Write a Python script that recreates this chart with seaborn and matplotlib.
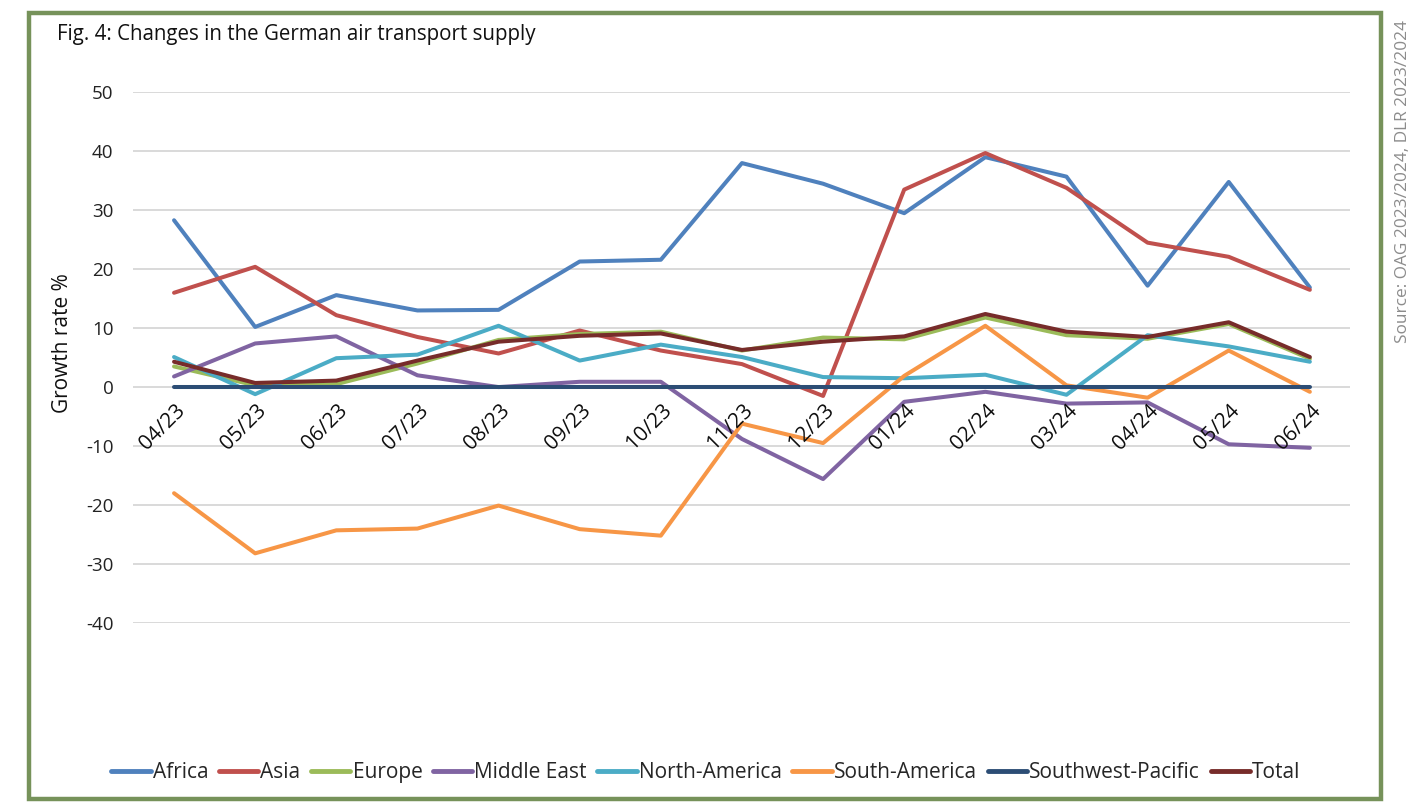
import matplotlib
matplotlib.use("Agg")
import matplotlib.pyplot as plt
import matplotlib.patheffects as pe
import seaborn as sns
import pandas as pd
import numpy as np
from matplotlib.patches import Rectangle
from matplotlib.lines import Line2D

months = ["04/23", "05/23", "06/23", "07/23", "08/23", "09/23", "10/23", "11/23",
          "12/23", "01/24", "02/24", "03/24", "04/24", "05/24", "06/24"]

africa = [28.3, 10.2, 15.6, 13.0, 13.1, 21.3, 21.6, 38.0, 34.5, 29.5, 39.0, 35.7, 17.2, 34.8, 16.9]
asia = [16.0, 20.4, 12.2, 8.5, 5.7, 9.6, 6.2, 3.9, -1.5, 33.5, 39.7, 33.8, 24.5, 22.1, 16.5]
europe = [3.5, 0.3, 0.5, 4.0, 8.0, 9.0, 9.4, 6.2, 8.4, 8.1, 11.8, 8.8, 8.2, 10.7, 4.8]
middle_east = [1.8, 7.4, 8.6, 2.0, 0.0, 0.9, 0.9, -8.8, -15.6, -2.5, -0.8, -2.8, -2.6, -9.7, -10.3]
north_america = [5.1, -1.2, 4.9, 5.5, 10.4, 4.5, 7.2, 5.1, 1.7, 1.5, 2.1, -1.3, 8.8, 6.9, 4.3]
south_america = [-18.0, -28.2, -24.3, -24.0, -20.1, -24.1, -25.2, -6.2, -9.5, 1.9, 10.4, 0.3, -1.8, 6.2, -0.8]
southwest_pacific = [0.0] * 15
total = [4.3, 0.7, 1.1, 4.5, 7.7, 8.7, 9.1, 6.3, 7.7, 8.6, 12.4, 9.4, 8.5, 11.0, 5.1]

series_names = ["Africa", "Asia", "Europe", "Middle East", "North-America",
                "South-America", "Southwest-Pacific", "Total"]
series_values = [africa, asia, europe, middle_east, north_america,
                 south_america, southwest_pacific, total]
colors = ["#4F81BD", "#C0504D", "#9BBB59", "#8064A2", "#4BACC6",
          "#F79646", "#2C4D75", "#772C2A"]

y_ticks = [50, 40, 30, 20, 10, 0, -10, -20, -30, -40]

rows = []
for name, vals in zip(series_names, series_values):
    for i, v in enumerate(vals):
        rows.append({"pos": i, "month": months[i], "value": v, "series": name})
df = pd.DataFrame(rows)

sns.set_theme(style="white")
plt.rcParams["font.family"] = ["Open Sans", "DejaVu Sans"]

fig = plt.figure(figsize=(14.2, 8.1), dpi=100)
ax = fig.add_axes([0.094, 0.231, 0.857, 0.655])

sns.lineplot(data=df, x="pos", y="value", hue="series", hue_order=series_names,
             palette=colors, linewidth=2.9, ax=ax, legend=False, sort=False)

ax.set_xlim(-0.5, len(months) - 0.5)
ax.set_ylim(-40, 50)
ax.set_yticks(y_ticks)
ax.set_yticklabels([str(t) for t in y_ticks], fontsize=13.5, color="#222222")
ax.yaxis.grid(True, color="#D9D9D9", linewidth=1.4)
ax.set_axisbelow(True)
for s in ax.spines.values():
    s.set_visible(False)
ax.set_xticks(range(len(months)))
ax.set_xticklabels([""] * len(months))
ax.tick_params(axis="y", length=0, pad=14.5)
ax.tick_params(axis="x", length=0)
ax.set_xlabel("")
ax.set_ylabel("Growth rate %", fontsize=15, color="#111111")
ax.yaxis.set_label_coords(-0.050, 0.527)

# category labels placed next to the zero line (as in the original chart)
for i, m in enumerate(months):
    ax.annotate(m, xy=(i, 0), xytext=(0, -10), textcoords="offset points",
                rotation=45, ha="right", va="top", rotation_mode="anchor",
                fontsize=15, color="#111111", zorder=6, annotation_clip=False,
                path_effects=[pe.Normal()])

handles = [Line2D([0], [0], color=c, linewidth=3.5, solid_capstyle="round") for c in colors]
fig.legend(handles, series_names, loc="center", bbox_to_anchor=(0.497, 0.0457),
           ncol=8, frameon=False, fontsize=15, handlelength=1.9,
           handletextpad=0.1, columnspacing=0.5)

fig.text(0.04, 0.958, "Fig. 4: Changes in the German air transport supply",
         fontsize=14.8, color="#111111", va="center", ha="left")
fig.text(0.988, 0.776, "Source: OAG 2023/2024, DLR 2023/2024", rotation=90,
         fontsize=12.4, color="#8C8C8C", va="center", ha="center")

fig.patches.append(Rectangle((0.0205, 0.014), 0.952, 0.97, transform=fig.transFigure,
                             fill=False, edgecolor="#76925A", linewidth=3.2))

fig.savefig("out.png", dpi=100)
